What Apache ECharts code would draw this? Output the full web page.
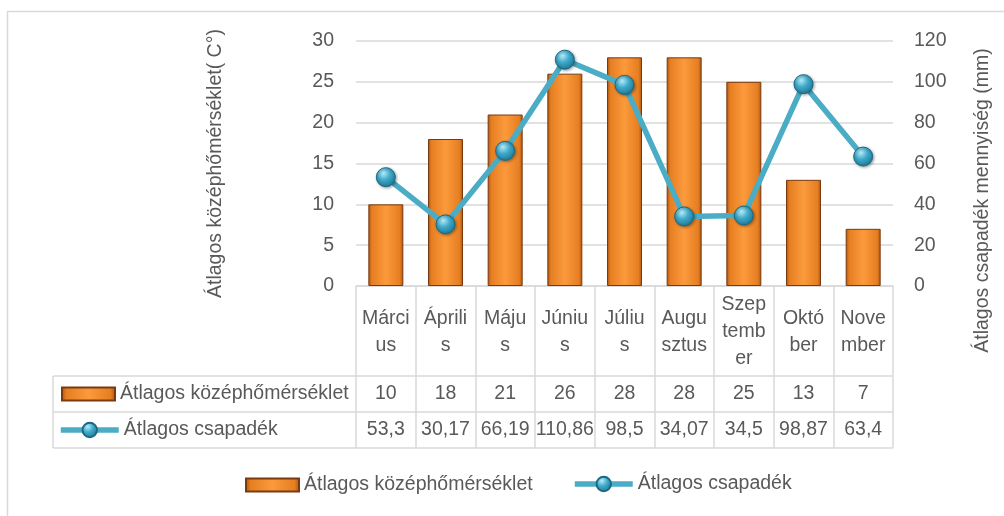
<!DOCTYPE html>
<html>
<head>
<meta charset="utf-8">
<script src="https://cdn.jsdelivr.net/npm/echarts@6/dist/echarts.min.js"></script>
<style>html,body{margin:0;padding:0;background:#fff;}#c{width:1004px;height:516px;}</style>
</head>
<body>
<div id="c"></div>
<script>
// ---- data ----
var months = ["Márci\nus","Áprili\ns","Máju\ns","Júniu\ns","Júliu\ns","Augu\nsztus","Szep\ntemb\ner","Októ\nber","Nove\nmber"];
var tempName = "Átlagos középhőmérséklet";
var rainName = "Átlagos csapadék";
var temps = [10, 18, 21, 26, 28, 28, 25, 13, 7];
var rain = [53.3, 30.17, 66.19, 110.86, 98.5, 34.07, 34.5, 98.87, 63.4];
var leftTicks = [0, 5, 10, 15, 20, 25, 30];
var rightTicks = [0, 20, 40, 60, 80, 100, 120];

// ---- layout ----
var FONT = "'Liberation Sans', Arial, sans-serif";
var FS = 19.5;
var TXT = '#595959';
var GRIDC = '#d9d9d9';
var G = {left: 356, right: 111, top: 41, bottom: 230};
var W = 1004, H = 516;
var axisY = H - G.bottom;          // 286
var plotRight = W - G.right;       // 893
var row1 = 376, row2 = 412, row3 = 448, tableLeft = 53;

function fmt(v) { return String(v).replace('.', ','); }

var chart = echarts.init(document.getElementById('c'), null, {renderer: 'canvas'});

var barColor = new echarts.graphic.LinearGradient(0, 0, 1, 0, [
  {offset: 0, color: '#a9530f'},
  {offset: 0.1, color: '#e67e22'},
  {offset: 0.5, color: '#fb9a3c'},
  {offset: 0.9, color: '#e67e22'},
  {offset: 1, color: '#a9530f'}
]);
var dotColor = new echarts.graphic.RadialGradient(0.38, 0.3, 0.75, [
  {offset: 0, color: '#b5ecf8'},
  {offset: 0.45, color: '#40aacb'},
  {offset: 1, color: '#1c7491'}
]);
var legText = {fontFamily: FONT, fontSize: FS, color: TXT};

var option = {
  backgroundColor: '#fff',
  animation: false,
  textStyle: {fontFamily: FONT, color: TXT},
  grid: {left: G.left, right: G.right, top: G.top, bottom: G.bottom, containLabel: false},
  legend: [
    {
      data: [{name: tempName, icon: 'rect'}],
      left: 245, top: 475, padding: 0,
      itemWidth: 53, itemHeight: 13,
      textStyle: legText, selectedMode: false
    },
    {
      data: [rainName],
      left: 572, top: 474, padding: 0,
      itemWidth: 58, itemHeight: 18,
      lineStyle: {width: 5.5},
      textStyle: legText, selectedMode: false
    },
    {
      data: [{name: tempName, icon: 'rect'}],
      left: 61, top: 384, padding: 0,
      itemWidth: 53, itemHeight: 13,
      textStyle: legText, selectedMode: false
    },
    {
      data: [rainName],
      left: 58, top: 420, padding: 0,
      itemWidth: 58, itemHeight: 18,
      lineStyle: {width: 5.5},
      textStyle: legText, selectedMode: false
    }
  ],
  xAxis: [
    {
      type: 'category', data: months, position: 'bottom',
      axisLine: {show: true, lineStyle: {color: GRIDC, width: 1.5}},
      axisTick: {show: true, interval: 0, length: row3 - axisY, lineStyle: {color: GRIDC, width: 1.5}},
      axisLabel: {interval: 0, margin: 46, verticalAlign: 'middle', fontFamily: FONT, fontSize: FS,
        color: TXT, lineHeight: 27}
    },
    {
      type: 'category', data: months, position: 'bottom',
      axisLine: {show: false}, axisTick: {show: false},
      axisLabel: {interval: 0, margin: (row1 + row2) / 2 - axisY, verticalAlign: 'middle', fontFamily: FONT,
        fontSize: FS, color: TXT, formatter: function (v, i) { return fmt(temps[i]); }}
    },
    {
      type: 'category', data: months, position: 'bottom',
      axisLine: {show: false}, axisTick: {show: false},
      axisLabel: {interval: 0, margin: (row2 + row3) / 2 - axisY, verticalAlign: 'middle', fontFamily: FONT,
        fontSize: FS, color: TXT, formatter: function (v, i) { return fmt(rain[i]); }}
    }
  ],
  yAxis: [
    {
      type: 'value', min: leftTicks[0], max: leftTicks[leftTicks.length - 1], interval: leftTicks[1] - leftTicks[0],
      position: 'left',
      name: 'Átlagos középhőmérséklet( C°)', nameLocation: 'middle', nameRotate: 90, nameGap: 130,
      nameTextStyle: {fontFamily: FONT, fontSize: FS, color: TXT},
      axisLine: {show: false}, axisTick: {show: false},
      axisLabel: {margin: 22, fontFamily: FONT, fontSize: FS, color: TXT},
      splitLine: {show: true, lineStyle: {color: GRIDC, width: 1.5}}
    },
    {
      type: 'value', min: rightTicks[0], max: rightTicks[rightTicks.length - 1], interval: rightTicks[1] - rightTicks[0],
      position: 'right',
      name: 'Átlagos csapadék mennyiség (mm)', nameLocation: 'middle', nameRotate: 90, nameGap: 80,
      nameTextStyle: {fontFamily: FONT, fontSize: FS, color: TXT, padding: [0, 74, 0, 0]},
      axisLine: {show: false}, axisTick: {show: false},
      axisLabel: {margin: 21, fontFamily: FONT, fontSize: FS, color: TXT},
      splitLine: {show: false}
    }
  ],
  series: [
    {
      name: tempName, type: 'bar', xAxisIndex: 0, yAxisIndex: 0, data: temps,
      barWidth: 35,
      itemStyle: {color: barColor, borderColor: '#7a3a10', borderWidth: 1},
      z: 2
    },
    {
      name: rainName, type: 'line', xAxisIndex: 0, yAxisIndex: 1, data: rain,
      lineStyle: {color: '#4bacc6', width: 5.5},
      symbol: 'circle', symbolSize: 19,
      itemStyle: {color: dotColor, borderColor: '#1a6a82', borderWidth: 1,
        shadowBlur: 3, shadowColor: 'rgba(0,0,0,0.35)', shadowOffsetX: 1, shadowOffsetY: 1},
      z: 3
    }
  ],
  graphic: [
    {type: 'rect', shape: {x: 7.5, y: 11.5, width: 1100, height: 600}, style: {fill: 'none', stroke: GRIDC, lineWidth: 1.5}, silent: true, z: -10},
    {type: 'line', shape: {x1: tableLeft, y1: row1, x2: plotRight, y2: row1}, style: {stroke: GRIDC, lineWidth: 1.5}, silent: true},
    {type: 'line', shape: {x1: tableLeft, y1: row2, x2: plotRight, y2: row2}, style: {stroke: GRIDC, lineWidth: 1.5}, silent: true},
    {type: 'line', shape: {x1: tableLeft, y1: row3, x2: plotRight, y2: row3}, style: {stroke: GRIDC, lineWidth: 1.5}, silent: true},
    {type: 'line', shape: {x1: tableLeft, y1: row1, x2: tableLeft, y2: row3}, style: {stroke: GRIDC, lineWidth: 1.5}, silent: true}
  ]
};
chart.setOption(option);
</script>
</body>
</html>
